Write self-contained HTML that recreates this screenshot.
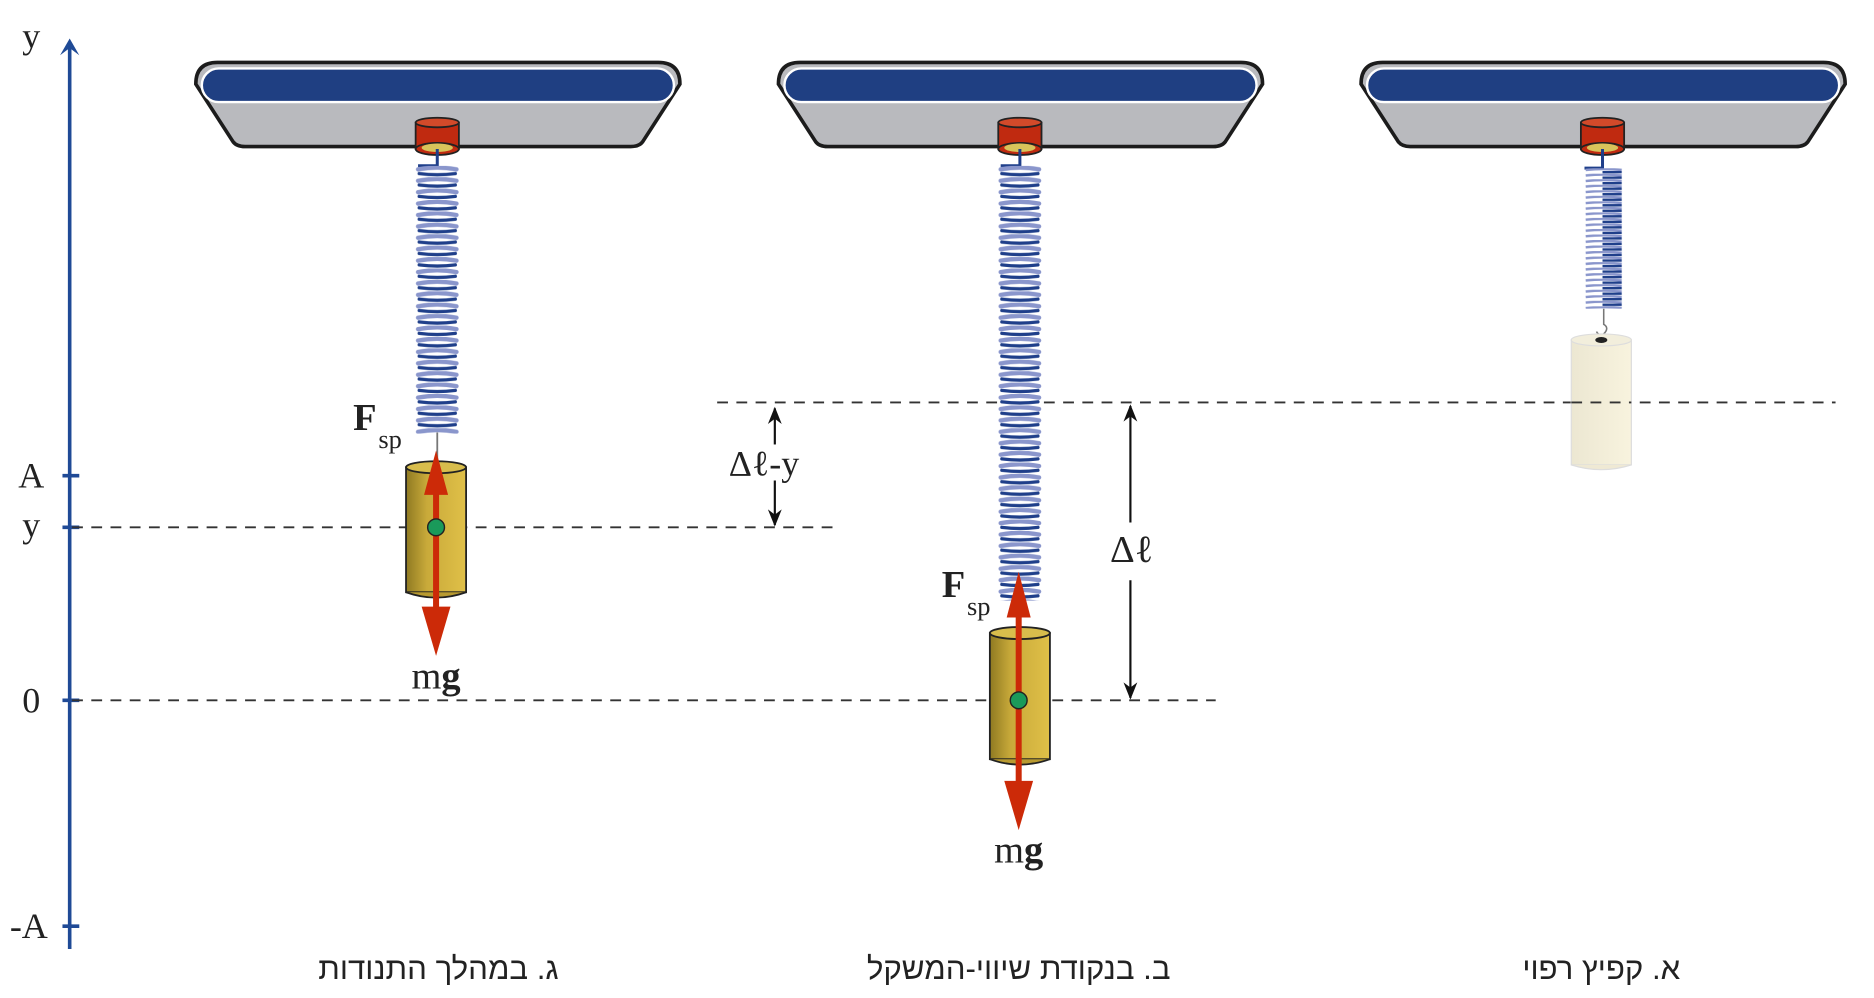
<!DOCTYPE html>
<html><head><meta charset="utf-8"><style>html,body{margin:0;padding:0;background:#fff}svg{display:block}</style></head>
<body>
<svg width="1874" height="998" viewBox="0 0 1560 830.8" preserveAspectRatio="none" xmlns="http://www.w3.org/2000/svg">
<defs>
<pattern id="coilL" x="346" y="138" width="36" height="9.5" patternUnits="userSpaceOnUse">
<path d="M2,3 Q18,0 34,3" stroke="#8a96cc" stroke-width="3.6" fill="none" stroke-linecap="round"/>
<path d="M3,6.5 Q18,8.5 33,6.5" stroke="#1f3f8a" stroke-width="2.8" fill="none" stroke-linecap="round"/>
</pattern>
<pattern id="coilM" x="831" y="138" width="36" height="9.5" patternUnits="userSpaceOnUse">
<path d="M2,3 Q18,0 34,3" stroke="#8a96cc" stroke-width="3.6" fill="none" stroke-linecap="round"/>
<path d="M3,6.5 Q18,8.5 33,6.5" stroke="#1f3f8a" stroke-width="2.8" fill="none" stroke-linecap="round"/>
</pattern>
<pattern id="coil2" x="1318" y="140" width="34" height="4.6" patternUnits="userSpaceOnUse">
<path d="M2,1.5 Q17,0 32,1.5" stroke="#8a96cc" stroke-width="2" fill="none"/>
<path d="M16,3.3 L32,3.3" stroke="#1f3f8a" stroke-width="2" fill="none"/>
</pattern>
<linearGradient id="gold" x1="0" x2="1"><stop offset="0" stop-color="#8f7a22"/><stop offset=".35" stop-color="#c9aa3a"/><stop offset="1" stop-color="#e0c048"/></linearGradient>
<linearGradient id="pale" x1="0" x2="1"><stop offset="0" stop-color="#ece7d2"/><stop offset="1" stop-color="#f8f3de"/></linearGradient>
<g id="ceil">
<path d="M18,0 H385 Q403,0 403,18 L372,66 Q369,70 362,70 H41 Q34,70 31,66 L0,18 Q0,0 18,0 Z" fill="#b9babe" stroke="#1c1c1c" stroke-width="3"/>
<rect x="5" y="5" width="393" height="28" rx="14" fill="#1f3f82" stroke="#fff" stroke-width="2"/>
<rect x="183" y="50" width="36" height="22" fill="#c02a10" stroke="#222" stroke-width="1.5"/>
<ellipse cx="201" cy="50" rx="18" ry="4" fill="#d24a2a" stroke="#222" stroke-width="1.5"/>
<ellipse cx="201" cy="72" rx="18" ry="5" fill="#c02a10" stroke="#222" stroke-width="1.5"/>
<ellipse cx="201" cy="71" rx="13" ry="3.5" fill="#d8c35a"/>
</g>
<marker id="ar" viewBox="0 0 10 10" refX="9" refY="5" markerWidth="8" markerHeight="8" orient="auto-start-reverse"><path d="M0,1 L10,5 L0,9 L3,5 Z" fill="#111"/></marker>
</defs>

<line x1="58" y1="36" x2="58" y2="790" stroke="#1f4a96" stroke-width="3"/>
<path d="M50,46 L58,32 L66,46 L58,40 Z" fill="#1f4a96"/>
<g stroke="#1f4a96" stroke-width="3"><line x1="52" y1="396" x2="66" y2="396"/><line x1="52" y1="439" x2="66" y2="439"/><line x1="52" y1="583" x2="66" y2="583"/><line x1="52" y1="771" x2="66" y2="771"/></g>
<g font-family="Liberation Serif, serif" font-size="30" fill="#222" text-anchor="middle">
<text x="26" y="40">y</text><text x="26" y="406">A</text><text x="26" y="447">y</text><text x="26" y="593">0</text><text x="24" y="781">-A</text>
</g>

<g stroke="#333" stroke-width="1.6" stroke-dasharray="9,7">
<line x1="597" y1="335" x2="1528" y2="335"/>
<line x1="60" y1="439" x2="697" y2="439"/>
<line x1="60" y1="583" x2="1012" y2="583"/>
</g>

<use href="#ceil" x="163" y="52"/>
<use href="#ceil" x="648" y="52"/>
<use href="#ceil" x="1133" y="52"/>

<path d="M364,124 V138 H348" stroke="#1f3f8a" stroke-width="2.5" fill="none"/>
<rect x="346" y="138" width="36" height="223" fill="url(#coilL)"/>
<line x1="364" y1="360" x2="364" y2="384" stroke="#777" stroke-width="1.5"/>
<rect x="338" y="389" width="50" height="104" fill="url(#gold)" stroke="#222" stroke-width="1.5"/>
<ellipse cx="363" cy="389" rx="25" ry="5" fill="#d8bd4c" stroke="#222" stroke-width="1.5"/>
<path d="M338,493 Q363,502 388,493" fill="#b89a30" stroke="#222" stroke-width="1.5"/>
<line x1="363" y1="400" x2="363" y2="510" stroke="#cc2a08" stroke-width="5"/>
<path d="M353,412 L363,375 L373,412 Z" fill="#cc2a08"/>
<path d="M351,505 L363,546 L375,505 Z" fill="#cc2a08"/>
<circle cx="363" cy="439" r="7" fill="#1a9a5a" stroke="#222" stroke-width="1.2"/>
<text x="294" y="358" font-family="Liberation Serif, serif" font-size="32" font-weight="bold" fill="#222">F</text>
<text x="315" y="373" font-family="Liberation Serif, serif" font-size="22" fill="#222">sp</text>
<text x="363" y="573" font-family="Liberation Serif, serif" font-size="32" fill="#222" text-anchor="middle">m<tspan font-weight="bold">g</tspan></text>

<path d="M849,124 V138 H833" stroke="#1f3f8a" stroke-width="2.5" fill="none"/>
<rect x="831" y="138" width="36" height="362" fill="url(#coilM)"/>
<rect x="824" y="527" width="50" height="105" fill="url(#gold)" stroke="#222" stroke-width="1.5"/>
<ellipse cx="849" cy="527" rx="25" ry="5" fill="#d8bd4c" stroke="#222" stroke-width="1.5"/>
<path d="M824,632 Q849,641 874,632" fill="#b89a30" stroke="#222" stroke-width="1.5"/>
<line x1="848" y1="510" x2="848" y2="655" stroke="#cc2a08" stroke-width="5"/>
<path d="M838,514 L848,476 L858,514 Z" fill="#cc2a08"/>
<path d="M836,650 L848,691 L860,650 Z" fill="#cc2a08"/>
<circle cx="848" cy="583" r="7" fill="#1a9a5a" stroke="#222" stroke-width="1.2"/>
<text x="784" y="497" font-family="Liberation Serif, serif" font-size="32" font-weight="bold" fill="#222">F</text>
<text x="805" y="512" font-family="Liberation Serif, serif" font-size="22" fill="#222">sp</text>
<text x="848" y="718" font-family="Liberation Serif, serif" font-size="32" fill="#222" text-anchor="middle">m<tspan font-weight="bold">g</tspan></text>

<path d="M1334,124 V140 H1319" stroke="#1f3f8a" stroke-width="2.5" fill="none"/>
<rect x="1318" y="140" width="34" height="117" fill="url(#coil2)"/>
<path d="M1335,257 V270 q5,3 0,8 q-4,2 -6,-2" stroke="#777" stroke-width="1.3" fill="none"/>
<rect x="1308" y="283" width="50" height="104" fill="url(#pale)" stroke="#ddd" stroke-width="1"/>
<ellipse cx="1333" cy="283" rx="25" ry="5" fill="#f2eedc" stroke="#ddd"/>
<path d="M1308,387 Q1333,395 1358,387" fill="#efe9d4" stroke="#ddd"/>
<ellipse cx="1333" cy="283" rx="5" ry="2.5" fill="#222"/>
<line x1="1308" y1="335" x2="1358" y2="335" stroke="#333" stroke-width="1.6" stroke-dasharray="9,7"/>

<line x1="645" y1="340" x2="645" y2="370" stroke="#111" stroke-width="1.8" marker-start="url(#ar)"/>
<line x1="645" y1="400" x2="645" y2="437" stroke="#111" stroke-width="1.8" marker-end="url(#ar)"/>
<text x="636" y="396" font-family="Liberation Serif, serif" font-size="30" fill="#222" text-anchor="middle">Δℓ-y</text>
<line x1="941" y1="338" x2="941" y2="435" stroke="#111" stroke-width="1.8" marker-start="url(#ar)"/>
<line x1="941" y1="483" x2="941" y2="581" stroke="#111" stroke-width="1.8" marker-end="url(#ar)"/>
<text x="942" y="468" font-family="Liberation Serif, serif" font-size="32" fill="#222" text-anchor="middle">Δℓ</text>

<g font-family="Liberation Sans, DejaVu Sans, sans-serif" font-size="26" fill="#222" text-anchor="middle">
<text x="365" y="815">ג. במהלך התנודות</text>
<text x="848" y="815">ב. בנקודת שיווי-המשקל</text>
<text x="1333" y="815">א. קפיץ רפוי</text>
</g>
</svg>
</body></html>
